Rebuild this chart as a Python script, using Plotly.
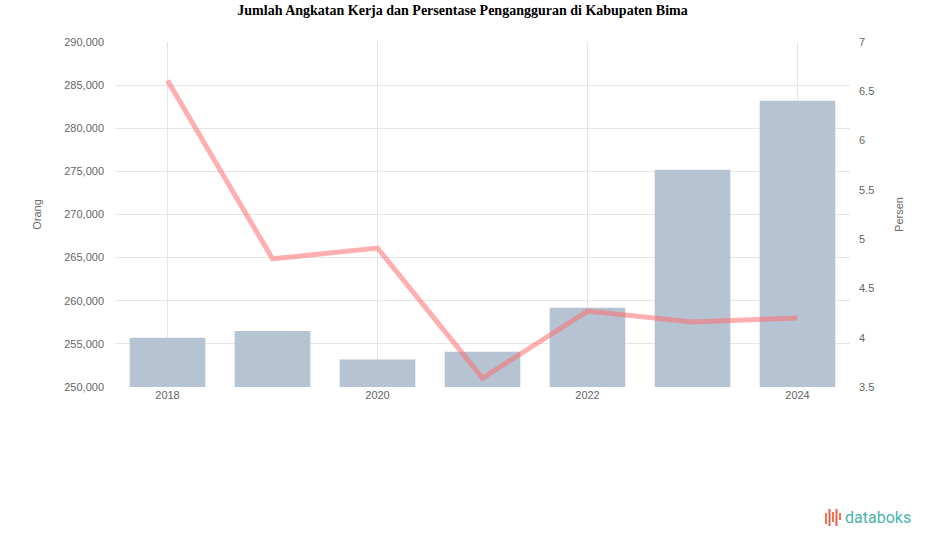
import plotly.graph_objects as go

years = [2018, 2019, 2020, 2021, 2022, 2023, 2024]
labor_force = [255700, 256500, 253200, 254100, 259200, 275200, 283200]
unemployment = [6.61, 4.80, 4.91, 3.59, 4.27, 4.16, 4.20]
left_ticks = [250000, 255000, 260000, 265000, 270000, 275000, 280000, 285000, 290000]
right_ticks = [3.5, 4, 4.5, 5, 5.5, 6, 6.5, 7]
title = "Jumlah Angkatan Kerja dan Persentase Pengangguran di Kabupaten Bima"

W, H = 925, 547
L, R, T, B = 115, 75, 42, 160
PW, PH = W - L - R, H - T - B


def px(x):
    return (x - L) / PW


def py(y):
    return 1 - (y - T) / PH


fig = go.Figure()
fig.add_trace(go.Bar(x=years, y=labor_force, name="Angkatan Kerja",
                     marker=dict(color="#b6c3d2", line=dict(width=0)), yaxis="y"))
fig.add_trace(go.Scatter(x=years, y=unemployment, name="Pengangguran", mode="lines",
                         line=dict(color="rgba(255,110,110,0.55)", width=5), yaxis="y2"))

tickfont = dict(family="Liberation Sans, Arial", size=11, color="#666666")
fig.update_layout(
    width=W, height=H,
    margin=dict(l=L, r=R, t=T, b=B),
    paper_bgcolor="white", plot_bgcolor="white",
    showlegend=False, bargap=0.28,
    title=dict(text="<b>" + title + "</b>", x=0.5, xanchor="center", y=1 - 10 / H, yanchor="middle",
               font=dict(family="Liberation Serif, Times New Roman", size=14, color="#000")),
    xaxis=dict(range=[2017.5, 2024.5], tickvals=[2018, 2020, 2022, 2024],
               ticktext=["2018", "2020", "2022", "2024"], showgrid=True, gridcolor="#e6e6e6",
               zeroline=False, showline=False, ticks="", tickfont=tickfont),
    yaxis=dict(range=[250000, 290000], tickvals=left_ticks, tickformat=",d",
               showgrid=True, gridcolor="#e6e6e6", zeroline=False, ticks="",
               tickfont=tickfont, ticklabelstandoff=10,
               title=dict(text="Orang", font=dict(family="Liberation Sans, Arial", size=11, color="#666"), standoff=20)),
    yaxis2=dict(range=[3.5, 7], tickvals=right_ticks, overlaying="y", side="right",
                showgrid=False, zeroline=False, ticks="", tickfont=tickfont, ticklabelstandoff=8,
                title=dict(text="Persen", font=dict(family="Liberation Sans, Arial", size=11, color="#666"), standoff=22)),
)

# databoks logo
bar_cols = ["#f4793b", "#ee5a5a", "#f4793b", "#ee5a5a", "#f4793b"]
bar_x = [826, 829.5, 833, 836.5, 840]
bar_top = [513, 509, 512, 509, 513]
bar_bot = [524, 526, 522, 526, 520]
for c, x, t, b in zip(bar_cols, bar_x, bar_top, bar_bot):
    fig.add_shape(type="line", xref="paper", yref="paper", x0=px(x), x1=px(x),
                  y0=py(b), y1=py(t), line=dict(color=c, width=2))
fig.add_annotation(text="databoks", xref="paper", yref="paper", x=px(843), y=py(517),
                   xanchor="left", yanchor="middle", showarrow=False,
                   font=dict(family="Roboto, Arial", size=16, color="#4bb3ad"))

fig.write_html("out.html", config={"displayModeBar": False},
               post_script="document.body.style.margin='0';")
